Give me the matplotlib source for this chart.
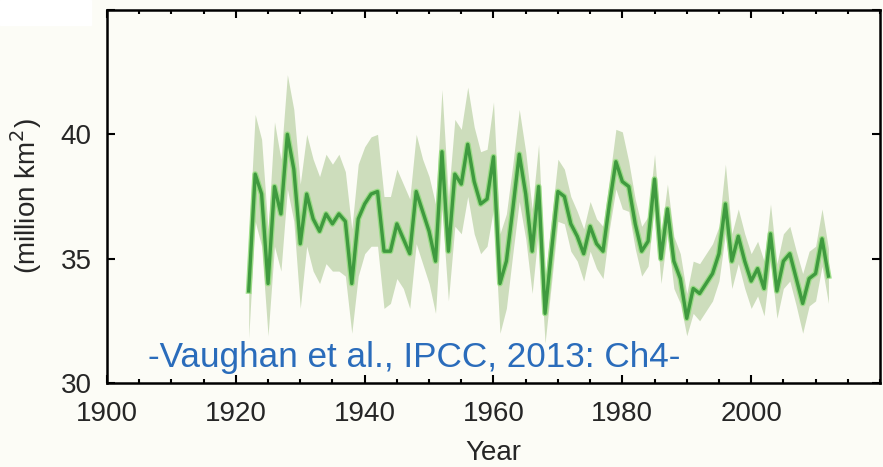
from matplotlib import pyplot as plt
from matplotlib.patches import Rectangle
from matplotlib.ticker import MultipleLocator
import numpy as np

## Data ------------------------------------------------------------------
years = np.arange(1922, 2013)

extent = [
    33.7, 38.4, 37.6, 34.0, 37.9, 36.8, 40.0, 38.6, 35.6, 37.6,
    36.6, 36.1, 36.8, 36.4, 36.8, 36.5, 34.0, 36.6, 37.2, 37.6,
    37.7, 35.3, 35.3, 36.4, 35.8, 35.2, 37.7, 36.9, 36.1, 34.9,
    39.3, 35.3, 38.4, 38.0, 39.6, 38.1, 37.2, 37.4, 39.1, 34.0,
    34.9, 37.0, 39.2, 37.6, 35.3, 37.9, 32.8, 35.3, 37.7, 37.5,
    36.4, 35.9, 35.2, 36.3, 35.6, 35.3, 37.2, 38.9, 38.1, 37.9,
    36.4, 35.3, 35.7, 38.2, 35.0, 37.0, 34.9, 34.2, 32.6, 33.8,
    33.6, 34.0, 34.4, 35.2, 37.2, 34.9, 35.9, 34.9, 34.1, 34.6,
    33.8, 36.0, 33.7, 34.9, 35.2, 34.2, 33.2, 34.2, 34.4, 35.8,
    34.3,
]

extent_lo = [
    31.8, 36.5, 35.5, 31.9, 35.5, 34.5, 37.8, 36.5, 33.0, 35.5,
    34.5, 34.0, 34.8, 34.5, 34.5, 34.3, 32.0, 34.3, 35.2, 35.5,
    35.5, 33.0, 33.2, 34.2, 33.8, 33.0, 35.6, 34.8, 34.0, 32.8,
    37.0, 33.3, 36.3, 36.0, 37.5, 36.0, 35.2, 35.5, 37.0, 32.0,
    33.0, 35.2, 37.3, 35.8, 33.6, 36.2, 31.6, 34.0, 36.5, 36.4,
    35.3, 34.9, 34.1, 35.3, 34.6, 34.2, 36.2, 37.8, 37.0, 36.9,
    35.4, 34.3, 34.7, 37.2, 34.0, 36.0, 33.8, 33.2, 31.9, 32.8,
    32.5, 32.9, 33.3, 34.1, 36.0, 33.8, 34.8, 33.8, 33.0, 33.5,
    32.7, 34.9, 32.6, 33.8, 34.1, 33.1, 32.0, 33.1, 33.3, 34.7,
    33.2,
]

extent_hi = [
    35.8, 40.8, 39.8, 36.2, 40.5, 39.0, 42.4, 41.0, 38.0, 40.0,
    39.0, 38.3, 39.2, 38.8, 39.2, 38.5, 36.2, 38.8, 39.5, 39.9,
    40.0, 37.5, 37.5, 38.6, 38.0, 37.4, 40.0, 39.0, 38.3, 37.2,
    41.8, 37.5, 40.6, 40.2, 41.9, 40.3, 39.3, 39.4, 41.3, 36.0,
    36.8, 38.8, 41.0, 39.3, 37.0, 39.6, 34.2, 36.6, 39.0, 38.6,
    37.5, 36.9, 36.2, 37.3, 36.6, 36.3, 38.2, 40.2, 40.1, 38.9,
    37.4, 36.3, 36.7, 39.2, 36.0, 38.0, 35.9, 35.2, 33.6, 34.9,
    34.8, 35.2, 35.6, 36.3, 38.8, 36.0, 37.0, 36.0, 35.2, 35.7,
    34.9, 37.2, 34.8, 36.0, 36.3, 35.3, 34.4, 35.3, 35.5, 37.0,
    35.4,
]

source = "-Vaughan et al., IPCC, 2013: Ch4-"

## Set up plot ------------------------------------------------------------
bg = "#fcfcf6"
fsize = 20
txt = "#262626"
plt.rc("font", family=["Liberation Sans", "DejaVu Sans"], size=fsize)

fig = plt.figure(figsize=(8.83, 4.67), dpi=100, facecolor=bg)
ax = fig.add_axes([107 / 883, 1 - 383 / 467, 773 / 883, 373 / 467])
ax.set_facecolor(bg)

ax.fill_between(years, extent_lo, extent_hi, color="#c8dab6", alpha=0.9,
                linewidth=0)
ax.plot(years, extent, color="#8edb78", linewidth=4.2, alpha=0.8,
        solid_joinstyle="round")
ax.plot(years, extent, color="#3f9a3f", linewidth=2.4,
        solid_joinstyle="round")

ax.set_xlim(1900, 2020)
ax.set_ylim(30, 45)
ax.set_xticks([1900, 1920, 1940, 1960, 1980, 2000])
ax.xaxis.set_minor_locator(MultipleLocator(5))
ax.set_yticks([30, 35, 40, 45])
ax.tick_params(which="both", direction="in", top=True, right=True,
               width=1.5, colors="black", labelcolor=txt)
ax.tick_params(which="major", length=6, pad=11)
ax.tick_params(axis="x", which="major", pad=13)
ax.tick_params(which="minor", length=3)
for s in ax.spines.values():
    s.set_linewidth(1.8)

ax.set_xlabel("Year", color=txt, labelpad=9)
ax.set_ylabel("(million km$^2$)", color=txt, labelpad=12)

ax.text(1906.4, 30.64, source, color="#2a6cbb", fontsize=25.3,
        va="baseline", ha="left")

# blank patch over the top-left corner
fig.patches.append(Rectangle((0, 1 - 25 / 467), 91 / 883, 25 / 467,
                             transform=fig.transFigure, color="white",
                             zorder=5))

fig.savefig("out.png", dpi=100, facecolor=bg)
